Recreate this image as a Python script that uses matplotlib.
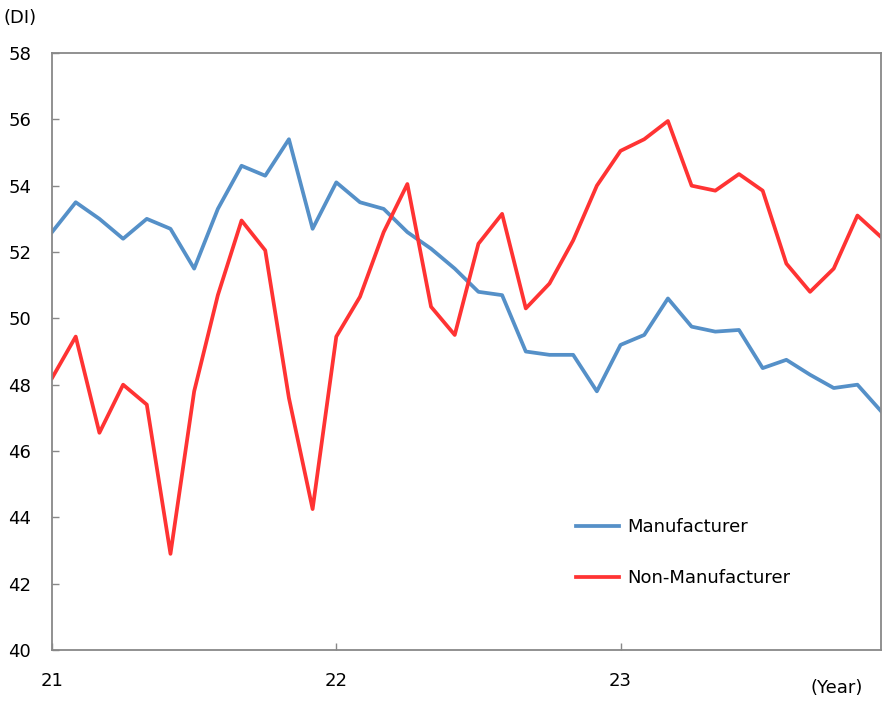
import numpy as np
import matplotlib
matplotlib.use("Agg")
import matplotlib.pyplot as plt

# monthly DI, Jan 2021 - Dec 2023
manufacturer = [52.6, 53.5, 53.0, 52.4, 53.0, 52.7, 51.5, 53.3, 54.6, 54.3, 55.4, 52.7,
                54.1, 53.5, 53.3, 52.6, 52.1, 51.5, 50.8, 50.7, 49.0, 48.9, 48.9, 47.8,
                49.2, 49.5, 50.6, 49.75, 49.6, 49.65, 48.5, 48.75, 48.3, 47.9, 48.0, 47.2]
non_manufacturer = [48.2, 49.45, 46.55, 48.0, 47.4, 42.9, 47.8, 50.7, 52.95, 52.05, 47.6, 44.25,
                    49.45, 50.65, 52.6, 54.05, 50.35, 49.5, 52.25, 53.15, 50.3, 51.05, 52.35, 54.0,
                    55.05, 55.4, 55.95, 54.0, 53.85, 54.35, 53.85, 51.65, 50.8, 51.5, 53.1, 52.45]
year_ticks = [0, 12, 24]
year_labels = ["21", "22", "23"]

months = np.arange(len(manufacturer))

plt.rcParams['font.family'] = ['DejaVu Sans']
fig = plt.figure(figsize=(8.82, 7.02), dpi=100)
ax = fig.add_axes([0.059, 0.074, 0.94, 0.8505])

ax.plot(months, manufacturer, color='#5590c8', linewidth=2.7, label='Manufacturer')
ax.plot(months, non_manufacturer, color='#ff3333', linewidth=2.7, label='Non-Manufacturer')

ax.set_xlim(0, len(months) - 1)
ax.set_ylim(40, 58)
ax.set_yticks(np.arange(40, 59, 2))
ax.set_xticks(year_ticks)
ax.set_xticklabels(year_labels)

for sp in ax.spines.values():
    sp.set_color('#888888')
    sp.set_linewidth(1.3)
ax.tick_params(axis='both', direction='in', colors='#888888', labelcolor='black',
               labelsize=13, length=5, width=1)
ax.tick_params(axis='y', pad=15)
ax.tick_params(axis='x', pad=16)

fig.text(0.004, 0.975, '(DI)', fontsize=13, va='center', ha='left')
fig.text(0.978, 0.02, '(Year)', fontsize=13, va='center', ha='right')

ax.legend(loc='lower left', bbox_to_anchor=(0.612, 0.078), frameon=False, fontsize=13,
          handlelength=2.4, labelspacing=1.85, handletextpad=0.45)

fig.savefig('out.png', dpi=100)
